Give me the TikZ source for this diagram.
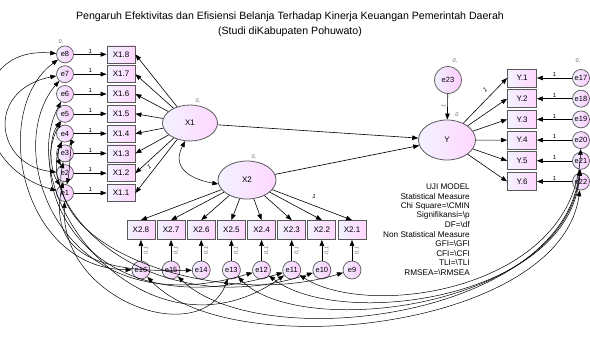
\documentclass[tikz,border=0pt]{standalone}
\usepackage{fontspec}
\setmainfont{Liberation Sans}
\usetikzlibrary{arrows.meta,shapes.geometric}
\begin{document}
\begin{tikzpicture}[x=1pt,y=-1pt,
  >={Triangle[length=6pt,width=4.5pt]},
  obs/.style={draw=black!65,line width=0.8pt,left color=blue!5,right color=magenta!16,minimum width=28pt,minimum height=17pt,inner sep=0pt,font=\fontsize{8}{9}\selectfont},
  err/.style={circle,draw=black!65,line width=0.7pt,left color=blue!6,right color=magenta!20,minimum size=17pt,inner sep=0pt,font=\fontsize{7.5}{8}\selectfont},
  lat/.style={ellipse,draw=black!65,line width=0.8pt,left color=blue!5,right color=magenta!16,inner sep=0pt,font=\fontsize{8}{9}\selectfont},
  pth/.style={->,line width=0.6pt},
  cov/.style={<->,line width=0.5pt},
  one/.style={font=\fontsize{6}{7}\selectfont,inner sep=1pt},
  zero/.style={font=\itshape\fontsize{5.5}{6}\selectfont,text=black!60,inner sep=0pt},
  stat/.style={font=\fontsize{8.2}{9}\selectfont,anchor=east,inner sep=0pt}
]
\useasboundingbox (0,0) rectangle (590,351);
% title
\node[font=\fontsize{10.6}{12}\selectfont] (t1) at (290,17) {Pengaruh Efektivitas dan Efisiensi Belanja Terhadap Kinerja Keuangan Pemerintah Daerah};
\node[font=\fontsize{10.6}{12}\selectfont] (t2) at (290,32) {(Studi diKabupaten Pohuwato)};
% latents
\node[lat,minimum width=55pt,minimum height=36pt] (X1) at (190,123) {X1};
\node[lat,minimum width=58pt,minimum height=38pt] (X2) at (247,180) {X2};
\node[lat,minimum width=57pt,minimum height=40pt] (Y) at (447,140) {Y};
\node[err,minimum size=27pt] (e23) at (448,80) {e23};
% X1 indicators
\foreach \i in {1,...,8}{
  \pgfmathsetmacro{\yy}{193-19.8*(\i-1)}
  \node[err] (e\i) at (65,\yy) {e\i};
  \node[obs] (xa\i) at (121,\yy) {X1.\i};
  \draw[pth] (e\i) -- node[above,one]{1} (xa\i);
  \draw[pth] (X1) -- (xa\i.east);
}
% X2 indicators
\foreach \i in {1,...,8}{
  \pgfmathsetmacro{\xx}{352-30.15*(\i-1)}
  \pgfmathtruncatemacro{\ee}{8+\i}
  \node[obs,minimum height=19pt] (xb\i) at (\xx,230) {X2.\i};
  \node[err,minimum size=18pt] (e\ee) at (\xx,270) {e\ee};
  \draw[pth] (X2) -- (xb\i.north);
  \draw[pth] (e\ee) -- node[zero,rotate=90,pos=0.5,xshift=0pt,yshift=-5pt]{0,1} (xb\i);
}
% Y indicators
\foreach \i in {1,...,6}{
  \pgfmathsetmacro{\yy}{78+20.7*(\i-1)}
  \pgfmathtruncatemacro{\ee}{16+\i}
  \node[obs,minimum width=29pt,minimum height=18pt] (yc\i) at (522,\yy) {Y.\i};
  \node[err] (e\ee) at (581,\yy) {e\ee};
  \draw[pth] (e\ee) -- node[above,one]{1} (yc\i);
  \draw[pth] (Y) -- (yc\i.west);
}
\draw[pth] (e23) -- node[right,zero,pos=0.55,rotate=90,yshift=4pt]{1} (Y);
\draw[pth] (X1) -- (Y);
\draw[pth] (X2) -- (Y);
\draw[cov] (X1.255) .. controls (170,170) and (195,180) .. (X2.188);
% zero labels
\node[zero] (z1) at (61,42) {0,};
\node[zero] (z2) at (198,101) {0,};
\node[zero] (z3) at (254,157) {0,};
\node[zero] (z4) at (455,61) {0,};
\node[zero] (z5) at (457,115) {0};
\node[zero] (z6) at (578,61) {0,};
\node[one,font=\itshape\fontsize{6}{7}\selectfont,rotate=40] (o1) at (149,167) {1};
\node[one,font=\itshape\fontsize{6}{7}\selectfont] (o2) at (314,196) {1};
\node[one,font=\itshape\fontsize{6}{7}\selectfont,rotate=40] (o3) at (485,90) {1};
% stats
\node[stat] (s1) at (470,187) {UJI MODEL};
\node[stat] (s2) at (470,196.5) {Statistical Measure};
\node[stat] (s3) at (470,206) {Chi Square=\textbackslash CMIN};
\node[stat] (s4) at (470,215.5) {Signifikansi=\textbackslash p};
\node[stat] (s5) at (470,225) {DF=\textbackslash df};
\node[stat] (s6) at (470,234.5) {Non Statistical Measure};
\node[stat] (s7) at (470,244) {GFI=\textbackslash GFI};
\node[stat] (s8) at (470,253.5) {CFI=\textbackslash CFI};
\node[stat] (s9) at (470,263) {TLI=\textbackslash TLI};
\node[stat] (s10) at (470,272.5) {RMSEA=\textbackslash RMSEA};
% covariances: left cluster
\draw[cov] (e8) .. controls (-35,45) and (-35,165) .. (e1);
\draw[cov] (e7) .. controls (-15,90) and (-5,165) .. (e2);
\draw[cov] (e1) .. controls (50,170) and (48,140) .. (e5);
\draw[cov] (e2) .. controls (58,160) and (58,150) .. (e4);
\draw[cov] (e1) .. controls (70,170) and (70,145) .. (e3);
% left to bottom row
\draw[cov] (e8) .. controls (-10,110) and (20,268) .. (e16);
\draw[cov] (e7) .. controls (0,150) and (60,330) .. (e12);
\draw[cov] (e5) .. controls (25,190) and (90,330) .. (e11);
\draw[cov] (e4) .. controls (35,210) and (150,325) .. (e10);
\draw[cov] (e3) .. controls (45,250) and (220,310) .. (e9);
\draw[cov] (e2) .. controls (45,265) and (120,272) .. (e14);
\draw[cov] (e1) .. controls (60,300) and (200,350) .. (e13);
\draw[cov] (e6) .. controls (10,200) and (150,370) .. (e11);
% bottom to right
\draw[cov] (e16) .. controls (230,365) and (560,330) .. (e22);
\draw[cov] (e15) .. controls (260,355) and (560,320) .. (e21);
\draw[cov] (e13) .. controls (300,340) and (565,310) .. (e21);
\draw[cov] (e12) .. controls (340,330) and (570,300) .. (e21);
\draw[cov] (e11) .. controls (370,320) and (575,290) .. (e20);
\end{tikzpicture}
\end{document}
